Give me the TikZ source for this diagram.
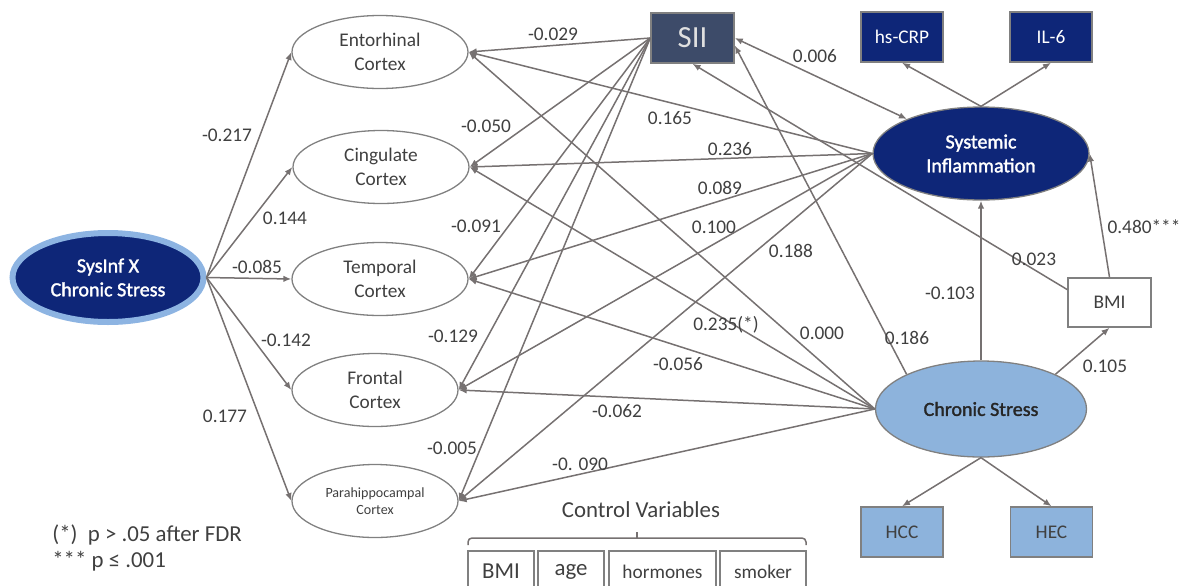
\documentclass[tikz,border=0pt]{standalone}
\usepackage{fontspec}
\setmainfont{Carlito}
\newfontfamily\latentfont[FakeBold=1.6]{Carlito}
\usetikzlibrary{arrows.meta,shapes.geometric}
\definecolor{navy}{RGB}{14,38,120}
\definecolor{ringblue}{RGB}{141,180,226}
\definecolor{paleblue}{RGB}{141,179,220}
\definecolor{slate}{RGB}{61,75,105}
\definecolor{linegray}{RGB}{118,113,113}
\definecolor{bordergray}{RGB}{128,128,128}
\definecolor{textgray}{RGB}{64,64,64}

\begin{document}
\begin{tikzpicture}[x=0.2mm,y=-0.2mm]
				\useasboundingbox (0,0) rectangle (1185,585);
				\clip (0,0) rectangle (1185,585);
				\tikzstyle{region}=[ellipse, draw=bordergray, line width=0.26mm, inner sep=0pt, minimum width=35.2mm, minimum height=14.6mm, align=center, text=textgray, font=\fontsize{11}{13.3}\selectfont]
				\tikzstyle{latent}=[ellipse, draw=bordergray, line width=0.26mm, inner sep=0pt, align=center, font=\latentfont\fontsize{11.4}{13.6}\selectfont]
				\tikzstyle{obs}=[rectangle, draw=bordergray, line width=0.3mm, inner sep=0pt, minimum width=16.4mm, minimum height=10mm, font=\fontsize{11}{13}\selectfont]
				\tikzstyle{ctrl}=[rectangle, draw=bordergray, line width=0.3mm, inner sep=0pt, minimum height=8.2mm, text=textgray]
				\tikzstyle{effect}=[draw=linegray, line width=0.3mm, -{Latex[length=1.6mm,width=1.3mm]}]
				\tikzstyle{cov}=[effect, {Latex[length=1.6mm,width=1.3mm]}-{Latex[length=1.6mm,width=1.3mm]}]
				\tikzstyle{coef}=[inner sep=0pt, text=textgray, font=\fontsize{11}{13}\selectfont]
				\draw (108,277.5) node[latent, fill=navy, draw=ringblue, line width=1.2mm, minimum width=38.2mm, minimum height=17.8mm, text=white] (sx) {SysInf X\\Chronic Stress};
				\draw (380,52) node[region] (ent) {Entorhinal\\Cortex};
				\draw (381,167) node[region] (cing) {Cingulate\\Cortex};
				\draw (380,279) node[region] (temp) {Temporal\\Cortex};
				\draw (375,390) node[region, minimum width=33.2mm] (front) {Frontal\\Cortex};
				\draw (375,501) node[region, minimum width=33.2mm, font=\fontsize{8}{9.6}\selectfont] (para) {Parahippocampal\\Cortex};
				\draw (692.5,38) node[obs, fill=slate, text=white!88!black, minimum width=16.6mm, font=\fontsize{17.5}{20}\selectfont] (sii) {SII};
				\draw (902,37) node[obs, fill=navy, text=white] (crp) {hs-CRP};
				\draw (1051,37) node[obs, fill=navy, text=white] (il6) {IL-6};
				\draw (981,153.5) node[latent, fill=navy, text=white, minimum width=43.2mm, minimum height=18.6mm] (si) {Systemic\\Inflammation};
				\draw (1109.5,302.5) node[obs, fill=white, text=textgray, minimum width=16.6mm, minimum height=9.8mm] (bmi) {BMI};
				\draw (981,409) node[latent, fill=paleblue, text=black!85, minimum width=42.2mm, minimum height=19.2mm] (cs) {Chronic Stress};
				\draw (902,532) node[obs, fill=paleblue, text=textgray] (hcc) {HCC};
				\draw (1051.5,532) node[obs, fill=paleblue, text=textgray] (hec) {HEC};
				\draw (641,510) node[inner sep=0pt, text=textgray, font=\fontsize{13}{15}\selectfont] (ctitle) {Control Variables};
				\draw (501,571.5) node[ctrl, minimum width=13.2mm, font=\fontsize{13}{15}\selectfont] (cbmi) {BMI};
				\draw (571,571.5) node[ctrl, minimum width=13.2mm, font=\fontsize{13}{15}\selectfont] (cage) {age};
				\draw (662.5,571.5) node[ctrl, minimum width=21.4mm, font=\fontsize{11}{13}\selectfont] (chorm) {hormones};
				\draw (763,571.5) node[ctrl, minimum width=17.2mm, font=\fontsize{11}{13}\selectfont] (csmok) {smoker};
				\draw[linegray, line width=0.3mm, rounded corners=0.8mm] (468,545) -- (468,538) -- (806,538) -- (806,545);
				\draw[linegray, line width=0.3mm] (637,538) -- (637,532);
				\draw (52,535) node[anchor=west, inner sep=0pt, text=textgray, font=\fontsize{13}{15}\selectfont] (note1) {(*)\ \ p > .05 after FDR};
				\draw (52,561) node[anchor=west, inner sep=0pt, text=textgray, font=\fontsize{13}{15}\selectfont] (note2) {*** p ≤ .001};
				\draw[effect] (sx.east) -- (ent.west);
				\draw[effect] (sx.east) -- (cing.west);
				\draw[effect] (sx.east) -- (temp.west);
				\draw[effect] (sx.east) -- (front.west);
				\draw[effect] (sx.east) -- (para.west);
				\draw[effect] (sii.west) -- (ent.east);
				\draw[effect] (sii.west) -- (cing.east);
				\draw[effect] (sii.west) -- (temp.east);
				\draw[effect] (sii.west) -- (front.east);
				\draw[effect] (sii.west) -- (para.east);
				\draw[effect] (si.west) -- (ent.east);
				\draw[effect] (si.west) -- (cing.east);
				\draw[effect] (si.west) -- (temp.east);
				\draw[effect] (si.west) -- (front.east);
				\draw[effect] (si.west) -- (para.east);
				\draw[effect] (cs.west) -- (ent.east);
				\draw[effect] (cs.west) -- (cing.east);
				\draw[effect] (cs.west) -- (temp.east);
				\draw[effect] (cs.west) -- (front.east);
				\draw[effect] (cs.west) -- (para.east);
				\draw[cov] (sii.east) -- (si.155);
				\draw[effect] (bmi.163) -- (sii.south);
				\draw[effect] (cs.155) -- (sii.-10);
				\draw[effect] (cs.north) -- (si.south);
				\draw[effect] (cs.25) -- (bmi.south);
				\draw[effect] (bmi.north) -- (si.east);
				\draw[effect] (si.north) -- (crp.south);
				\draw[effect] (si.north) -- (il6.south);
				\draw[effect] (cs.south) -- (hcc.north);
				\draw[effect] (cs.south) -- (hec.north);
				\draw (227,135) node[coef] (c1) {-0.217};
				\draw (285,218) node[coef] (c2) {0.144};
				\draw (257,267) node[coef] (c3) {-0.085};
				\draw (286,340) node[coef] (c4) {-0.142};
				\draw (225,416) node[coef] (c5) {0.177};
				\draw (553,34) node[coef] (c6) {-0.029};
				\draw (815,56) node[coef] (c7) {0.006};
				\draw (486,126) node[coef] (c8) {-0.050};
				\draw (670,118) node[coef] (c9) {0.165};
				\draw (730,149) node[coef] (c10) {0.236};
				\draw (720,188) node[coef] (c11) {0.089};
				\draw (476,226) node[coef] (c12) {-0.091};
				\draw (714,227) node[coef] (c13) {0.100};
				\draw (791,251) node[coef] (c14) {0.188};
				\draw (453,336) node[coef] (c15) {-0.129};
				\draw (726,325) node[coef] (c16) {0.235(*)};
				\draw (822,333) node[coef] (c17) {0.000};
				\draw (678,364) node[coef] (c18) {-0.056};
				\draw (617,411) node[coef] (c19) {-0.062};
				\draw (452,448) node[coef] (c20) {-0.005};
				\draw (580,464) node[coef] (c21) {-0. 090};
				\draw (1034,259) node[coef] (c22) {0.023};
				\draw (1144,227) node[coef] (c23) {0.480***};
				\draw (950,293) node[coef] (c24) {-0.103};
				\draw (907,338) node[coef] (c25) {0.186};
				\draw (1105,366) node[coef] (c26) {0.105};
			\end{tikzpicture}
\end{document}
